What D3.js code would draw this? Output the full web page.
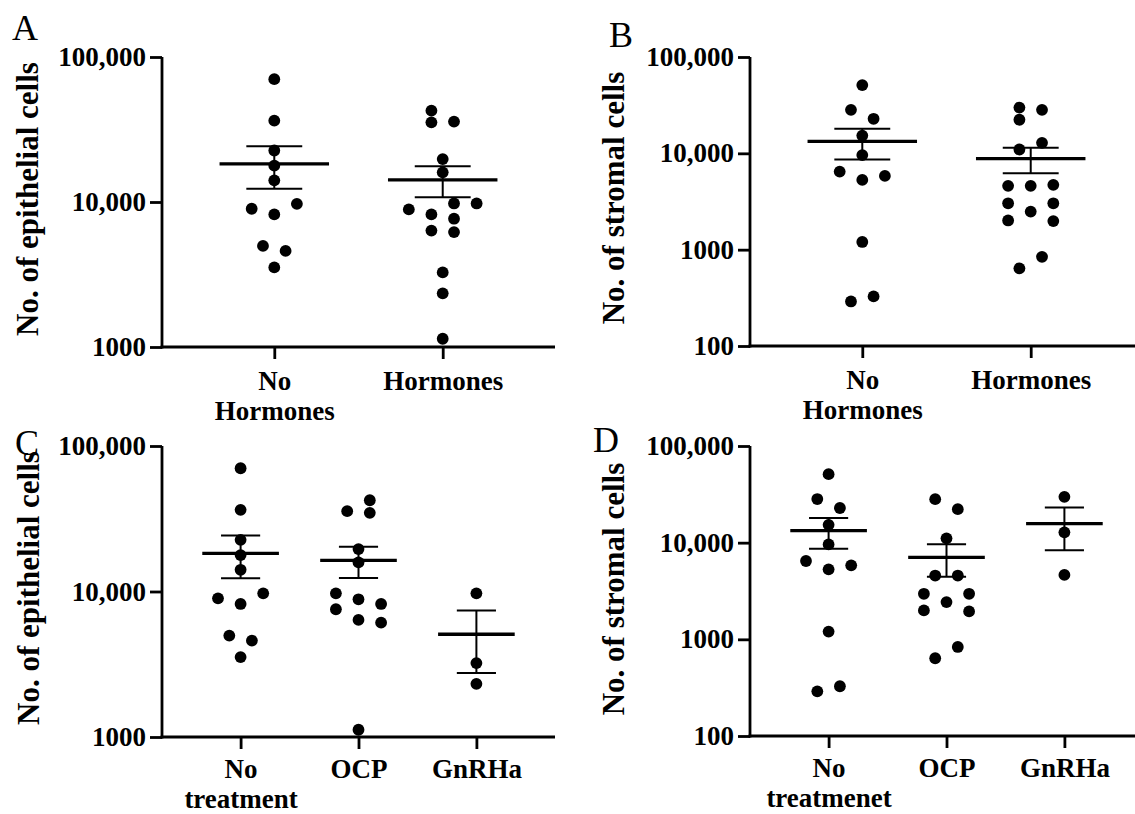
<!DOCTYPE html>
<html>
<head>
<meta charset="utf-8">
<script src="https://cdn.jsdelivr.net/npm/d3@7"></script>
<style>
  body{margin:0;background:#fff}
  svg{display:block}
  text{font-family:"Liberation Serif","Times New Roman",serif}
</style>
</head>
<body>
<svg id="chart" width="1135" height="814"></svg>
<script>
// values (cells per sample); order inside a group only decides left/right in a row
const noHormonesEpi=[70300,36400,22650,17800,14100,8980,8210,9710,4980,4600,3540];
const hormonesEpi=[42650,35840,35450,19770,16020,8890,8210,9770,9770,7670,6350,6200,3270,2345,1140];
const ocpEpi=[35650,42390,34730,19560,15850,9710,8840,8210,7550,6380,6110,1122];
const gnrhaEpi=[9710,3220,2320];

const noHormonesStr=[51100,28270,22840,15280,9590,6460,5300,5830,1202,290,327];
const hormonesStr=[29870,28270,22320,10960,12850,4600,4600,4710,3030,2485,3030,2010,1980,640,843];
const ocpStr=[28200,22230,11080,4570,4570,2960,2430,2960,1990,1945,637,834];
const gnrhaStr=[29800,12790,4640];

const hormoneCats=["No Hormones","Hormones"];
const treatCatsC=["No treatment","OCP","GnRHa"];
const treatCatsD=["No treatmenet","OCP","GnRHa"];
const epiTicks=[1000,10000,100000];
const strTicks=[100,1000,10000,100000];

const svg=d3.select("#chart");
const fmt=v=>v>=10000?d3.format(",")(v):String(v);
const S=11.3; // half step of the dot rows

const panels=[
  {letter:"A",lx:12,ly:40,x0:162,x1:555,top:57,bot:347,lo:1000,ticks:epiTicks,cats:hormoneCats,
   groups:[noHormonesEpi,hormonesEpi],title:"No. of epithelial cells",tx:38,ty:199,labY:43},
  {letter:"B",lx:609,ly:47,x0:750,x1:1143,top:57,bot:346,lo:100,ticks:strTicks,cats:hormoneCats,
   groups:[noHormonesStr,hormonesStr],title:"No. of stromal cells",tx:624,ty:198,labY:43},
  {letter:"C",lx:15,ly:455,x0:162,x1:555,top:446,bot:737,lo:1000,ticks:epiTicks,cats:treatCatsC,
   groups:[noHormonesEpi,ocpEpi,gnrhaEpi],title:"No. of epithelial cells",tx:39,ty:588,labY:41},
  {letter:"D",lx:593,ly:452,x0:750,x1:1143,top:446,bot:736,lo:100,ticks:strTicks,cats:treatCatsD,
   groups:[noHormonesStr,ocpStr,gnrhaStr],title:"No. of stromal cells",tx:624,ty:589,labY:41}
];

// Prism-like scatter: points grouped in rows, rows spread around the centre
function swarm(vals,y){
  const T=11.6,H=11;
  const pts=vals.map((v,i)=>({v,i,py:y(v),dx:0}));
  const rows=[];
  pts.slice().sort((a,b)=>a.py-b.py||a.i-b.i).forEach(p=>{
    const r=rows[rows.length-1];
    if(r&&p.py-r[0].py<T) r.push(p); else rows.push([p]);
  });
  const placed=[];
  const hits=(dx,py)=>placed.some(q=>Math.abs(q.dx-dx)<2*S-1&&Math.abs(q.py-py)<H);
  rows.forEach(r=>{
    r.sort((a,b)=>a.i-b.i);
    const n=r.length;
    let offs=r.map((p,k)=>(k-(n-1)/2)*2*S);
    search:
    for(const g of [2,4]){
      for(const sh of [0,1,-1,2,-2]){
        const o=r.map((p,k)=>((k-(n-1)/2)*g+sh)*S);
        if(!r.some((p,k)=>hits(o[k],p.py))){offs=o;break search;}
      }
    }
    r.forEach((p,k)=>{p.dx=offs[k];placed.push(p);});
  });
  return pts;
}

panels.forEach(draw);

function draw(p){
  const g=svg.append("g");
  const y=d3.scaleLog().domain([p.lo,100000]).range([p.bot,p.top]);
  const x=d3.scalePoint().domain(p.cats).range([p.x0,p.x1]).padding(2/3);
  const step=x.step();

  const ya=g.append("g").attr("transform",`translate(${p.x0},0)`)
    .call(d3.axisLeft(y).tickValues(p.ticks).tickFormat(fmt).tickSize(12).tickSizeOuter(0).tickPadding(4));
  const xa=g.append("g").attr("transform",`translate(0,${p.bot})`)
    .call(d3.axisBottom(x).tickSize(12).tickSizeOuter(0));
  [ya,xa].forEach(a=>{
    a.attr("font-family",null).attr("font-size",27).attr("font-weight","bold");
    a.selectAll("path,line").attr("stroke","#000").attr("stroke-width",2.8);
    a.selectAll("text").attr("fill","#000");
  });
  xa.select(".domain").attr("d",`M${p.x0-1.4},0H${p.x1}`);
  ya.select(".domain").attr("d",`M0,${p.top}V${p.bot+1.4}`);

  xa.selectAll(".tick text").each(function(d){
    const t=d3.select(this).text(null).attr("y",p.labY).attr("dy",null);
    d.split(" ").forEach((w,k)=>{
      t.append("tspan").attr("x",0).attr("dy",k?"1.12em":0).text(w);
    });
  });

  g.append("text").attr("transform",`translate(${p.tx},${p.ty}) rotate(-90)`)
    .attr("text-anchor","middle").attr("font-size",31).attr("font-weight","bold").text(p.title);
  g.append("text").attr("x",p.lx).attr("y",p.ly).attr("font-size",36).text(p.letter);

  p.groups.forEach((vals,gi)=>{
    const cx=x(p.cats[gi]);
    const pts=swarm(vals,y);
    g.append("g").selectAll("circle").data(pts).join("circle")
      .attr("cx",d=>cx+d.dx).attr("cy",d=>d.py).attr("r",5.9).attr("fill","#000");

    const m=d3.mean(vals),se=d3.deviation(vals)/Math.sqrt(vals.length);
    const e=g.append("g").attr("stroke","#000");
    e.append("line").attr("x1",cx).attr("x2",cx).attr("y1",y(m-se)).attr("y2",y(m+se)).attr("stroke-width",2);
    [m-se,m+se].forEach(v=>{
      e.append("line").attr("x1",cx-0.166*step).attr("x2",cx+0.166*step)
        .attr("y1",y(v)).attr("y2",y(v)).attr("stroke-width",2);
    });
    e.append("line").attr("x1",cx-0.325*step).attr("x2",cx+0.325*step)
      .attr("y1",y(m)).attr("y2",y(m)).attr("stroke-width",3.3);
  });
}
</script>
</body>
</html>
